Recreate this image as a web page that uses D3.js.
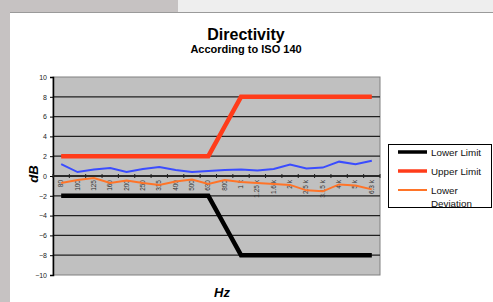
<!DOCTYPE html>
<html>
<head>
<meta charset="utf-8">
<script src="https://cdn.jsdelivr.net/npm/d3@7"></script>
<style>
  body { margin: 0; background: #fff; }
  svg { display: block; font-family: "Liberation Sans", Arial, sans-serif; }
</style>
</head>
<body>
<div id="chart"></div>
<script>
// bandes de fréquence (tiers d'octave)
var frequences = ["80", "100", "125", "160", "200", "250", "315", "400", "500", "630",
                  "800", "1 k", "1.25 k", "1.6 k", "2 k", "2.5 k", "3.15 k", "4 k", "5 k", "6.3 k"];
var limiteBasse = [-2, -2, -2, -2, -2, -2, -2, -2, -2, -2, -5, -8, -8, -8, -8, -8, -8, -8, -8, -8];
var limiteHaute = [2, 2, 2, 2, 2, 2, 2, 2, 2, 2, 5, 8, 8, 8, 8, 8, 8, 8, 8, 8];
var deviationHaute = [1.2, 0.4, 0.65, 0.8, 0.4, 0.7, 0.9, 0.6, 0.4, 0.5, 0.6, 0.65, 0.55, 0.7, 1.15, 0.75, 0.85, 1.45, 1.2, 1.55];
var deviationBasse = [-0.7, -0.4, -0.2, -0.7, -0.45, -0.7, -0.9, -0.55, -0.35, -0.8, -0.4, -0.6, -0.7, -0.8, -0.9, -1.45, -1.55, -0.85, -0.95, -1.35];
var graduationsY = [10, 8, 6, 4, 2, 0, -2, -4, -6, -8, -10];

var width = 493, height = 302;
var svg = d3.select("#chart").append("svg")
    .attr("width", width)
    .attr("height", height);

// cadre de la fenêtre (fond gris)
svg.append("rect").attr("x", 0).attr("y", 0).attr("width", width).attr("height", height).attr("fill", "#c6c2c2");
svg.append("rect").attr("x", 178).attr("y", 0).attr("width", width - 178).attr("height", 12).attr("fill", "#eeeeee");
svg.append("rect").attr("x", 10).attr("y", 12).attr("width", width - 10).attr("height", height - 12).attr("fill", "#ffffff");
svg.append("line").attr("x1", 10).attr("x2", width).attr("y1", 12.5).attr("y2", 12.5).attr("stroke", "#9a9a9a");

// titres
svg.append("text").attr("x", 246).attr("y", 40).attr("text-anchor", "middle")
    .style("font-size", "16px").style("font-weight", "bold").text("Directivity");
svg.append("text").attr("x", 246).attr("y", 52.5).attr("text-anchor", "middle")
    .style("font-size", "11px").style("font-weight", "bold").text("According to ISO 140");

var zone = { gauche: 53, droite: 380, haut: 77, bas: 275 };

var x = d3.scaleBand().domain(frequences).range([zone.gauche, zone.droite]);
var y = d3.scaleLinear().domain([-10, 10]).range([zone.bas, zone.haut]);

// fond du graphique
svg.append("rect")
    .attr("x", zone.gauche).attr("y", zone.haut)
    .attr("width", zone.droite - zone.gauche).attr("height", zone.bas - zone.haut)
    .attr("fill", "#c0c0c0").attr("stroke", "#808080").attr("stroke-width", 1);

// grille horizontale
svg.append("g").selectAll("line")
    .data(graduationsY.filter(d => d !== 10 && d !== -10))
    .enter().append("line")
    .attr("x1", zone.gauche).attr("x2", zone.droite)
    .attr("y1", d => y(d)).attr("y2", d => y(d))
    .attr("stroke", "#202020").attr("stroke-width", 1.3);

// axe Y
var axeY = svg.append("g")
    .attr("transform", "translate(" + zone.gauche + ",0)")
    .call(d3.axisLeft(y).tickValues(graduationsY).tickSize(3).tickPadding(3));
axeY.select(".domain").attr("stroke", "#000").attr("stroke-width", 1.5);
axeY.selectAll("text").style("font-size", "7px").attr("fill", "#222");

// axe X à y = 0
var limites = frequences.map(f => x(f)).concat([zone.droite]);
var axeX = svg.append("g");
axeX.append("line").attr("x1", zone.gauche).attr("x2", zone.droite)
    .attr("y1", y(0)).attr("y2", y(0)).attr("stroke", "#202020").attr("stroke-width", 1.5);
axeX.selectAll("line.tick").data(limites).enter().append("line")
    .attr("class", "tick")
    .attr("x1", d => d).attr("x2", d => d)
    .attr("y1", y(0) - 2).attr("y2", y(0) + 2)
    .attr("stroke", "#202020").attr("stroke-width", 1);
axeX.selectAll("text").data(frequences).enter().append("text")
    .attr("transform", d => "translate(" + (x(d) + x.bandwidth() / 2 + 2) + "," + (y(0) + 4) + ") rotate(-90)")
    .attr("text-anchor", "end")
    .style("font-size", "6.5px").attr("fill", "#333")
    .text(d => d);

// courbes
var ligne = d3.line()
    .x((d, i) => x(frequences[i]) + x.bandwidth() / 2)
    .y(d => y(d));

var series = [
    { valeurs: deviationHaute, couleur: "#3a4cff", epaisseur: 2 },
    { valeurs: deviationBasse, couleur: "#ff7428", epaisseur: 2 },
    { valeurs: limiteBasse, couleur: "#000000", epaisseur: 4.5 },
    { valeurs: limiteHaute, couleur: "#ff3c1a", epaisseur: 4.5 }
];
svg.append("g").selectAll("path").data(series).enter().append("path")
    .attr("d", d => ligne(d.valeurs))
    .attr("fill", "none")
    .attr("stroke", d => d.couleur)
    .attr("stroke-width", d => d.epaisseur)
    .attr("stroke-linejoin", "miter");

// titres des axes
svg.append("text").attr("transform", "translate(38,174) rotate(-90)")
    .attr("text-anchor", "middle")
    .style("font-size", "13px").style("font-weight", "bold").style("font-style", "italic")
    .text("dB");
svg.append("text").attr("x", 222).attr("y", 297).attr("text-anchor", "middle")
    .style("font-size", "13px").style("font-weight", "bold").style("font-style", "italic")
    .text("Hz");

// légende
var legende = svg.append("g");
legende.append("rect").attr("x", 388.5).attr("y", 144.5).attr("width", 103).attr("height", 63)
    .attr("fill", "#fff").attr("stroke", "#000").attr("stroke-width", 1);
var entrees = [
    { nom: ["Lower Limit"], couleur: "#000000", epaisseur: 3.5, yy: 152 },
    { nom: ["Upper Limit"], couleur: "#ff3c1a", epaisseur: 3.5, yy: 171 },
    { nom: ["Lower", "Deviation"], couleur: "#ff7428", epaisseur: 2, yy: 190 }
];
entrees.forEach(function (e) {
    legende.append("line").attr("x1", 398).attr("x2", 427).attr("y1", e.yy).attr("y2", e.yy)
        .attr("stroke", e.couleur).attr("stroke-width", e.epaisseur);
    e.nom.forEach(function (t, k) {
        legende.append("text").attr("x", 431).attr("y", e.yy + 3.5 + k * 13)
            .style("font-size", "9.8px").attr("fill", "#111").text(t);
    });
});
</script>
</body>
</html>
